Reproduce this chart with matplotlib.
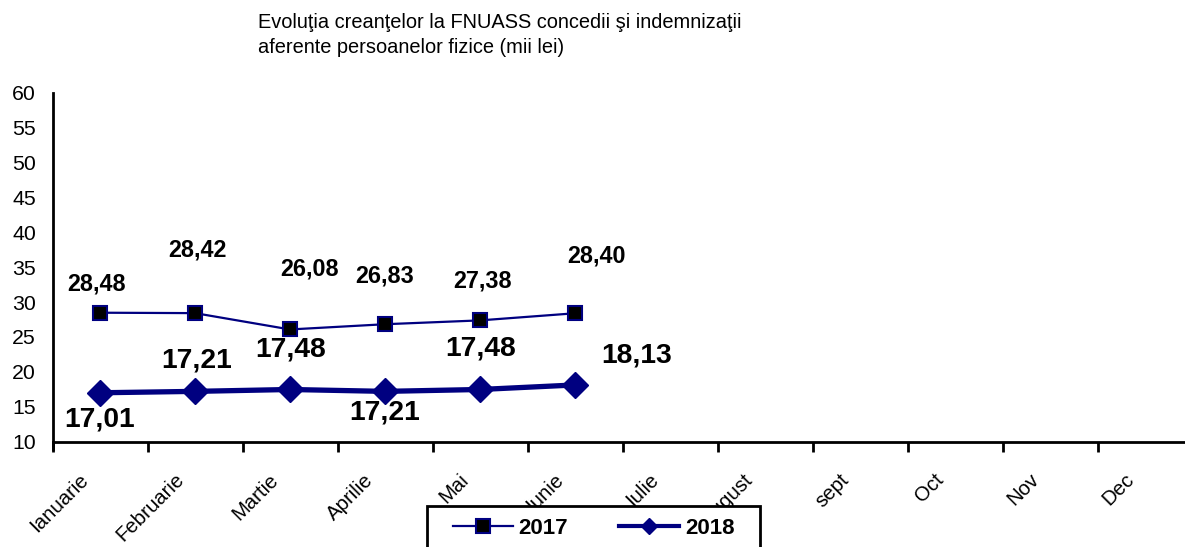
import matplotlib
matplotlib.use("Agg")
import matplotlib.pyplot as plt
from matplotlib.lines import Line2D
from matplotlib.patches import Rectangle
import matplotlib.transforms as mtransforms

plt.rcParams['font.family'] = ['Liberation Sans', 'DejaVu Sans']

months = ["Ianuarie", "Februarie", "Martie", "Aprilie", "Mai", "Iunie",
          "Iulie", "August", "sept", "Oct", "Nov", "Dec"]
values_2017 = [28.48, 28.42, 26.08, 26.83, 27.38, 28.40]
values_2018 = [17.01, 17.21, 17.48, 17.21, 17.48, 18.13]
labels_2017 = ["28,48", "28,42", "26,08", "26,83", "27,38", "28,40"]
labels_2018 = ["17,01", "17,21", "17,48", "17,21", "17,48", "18,13"]
yticks = [10, 15, 20, 25, 30, 35, 40, 45, 50, 55, 60]
series_names = ["2017", "2018"]
title = "Evoluţia creanţelor la FNUASS concedii şi indemnizaţii\naferente persoanelor fizice (mii lei)"

# label offsets in pixels (layout)
off_2017 = [(-3, 29), (2, 63), (20, 60), (0, 48), (3, 39), (22, 57)]
off_2018 = [(0, -27), (2, 31), (1, 40), (0, -21), (1, 41), (62, 29)]

navy = "#000080"
W, H = 1185, 547
fig = plt.figure(figsize=(W / 100, H / 100), dpi=100)
ax = fig.add_axes([52.5 / W, 1 - 441.7 / H, 1140 / W, 349 / H])

x = [i + 0.5 for i in range(len(months))]
ax.plot(x[:len(values_2017)], values_2017, color=navy, lw=1.6, marker='s', ms=9.5,
        mfc='black', mec=navy, mew=1.5, zorder=3)
ax.plot(x[:len(values_2018)], values_2018, color=navy, lw=3.8, marker='D', ms=13.5,
        mfc=navy, mec=navy, zorder=3)

for xi, v, lab, (dx, dy) in zip(x, values_2017, labels_2017, off_2017):
    ax.annotate(lab, (xi, v), xytext=(dx, dy), textcoords='offset pixels',
                ha='center', va='center', fontsize=16.8, fontweight='bold')
for xi, v, lab, (dx, dy) in zip(x, values_2018, labels_2018, off_2018):
    ax.annotate(lab, (xi, v), xytext=(dx, dy), textcoords='offset pixels',
                ha='center', va='center', fontsize=20.3, fontweight='bold')

ax.set_xlim(0, len(months))
ax.set_ylim(10, 60)
ax.set_yticks(yticks)
ax.set_yticklabels([str(t) for t in yticks], fontsize=15.3)
ax.tick_params(axis='y', length=0, pad=12)
ax.set_xticks(range(len(months) + 1))
ax.set_xticklabels([])
ax.set_xticks(x, minor=True)
ax.set_xticklabels(months, minor=True, rotation=45, ha='right', va='top',
                   rotation_mode='anchor', fontsize=14.7)
ax.tick_params(axis='x', which='major', length=7, width=2, direction='out')
ax.tick_params(axis='x', which='minor', length=0, pad=20.5)
shift = mtransforms.ScaledTranslation(-21 / 100, 0, fig.dpi_scale_trans)
for lbl in ax.get_xticklabels(minor=True):
    lbl.set_transform(lbl.get_transform() + shift)
for s in ['top', 'right']:
    ax.spines[s].set_visible(False)
ax.spines['left'].set_linewidth(2)
ax.spines['bottom'].set_linewidth(2)
fig.add_artist(Line2D([52.5 / W, 52.5 / W], [1 - 449 / H, 1 - 441.7 / H],
                      color='black', lw=2, transform=fig.transFigure))

fig.text(258 / W, 1 - 13 / H, title, ha='left', va='top', fontsize=14.4,
         linespacing=1.42)

# legend box
box = Rectangle((427 / W, 1 - 570 / H), 333 / W, 64 / H, transform=fig.transFigure,
                facecolor='white', edgecolor='black', lw=2, zorder=9)
fig.add_artist(box)
handles = [Line2D([], [], color=navy, lw=1.6, marker='s', ms=9.5, mfc='black',
                  mec=navy, mew=1.5),
           Line2D([], [], color=navy, lw=3, marker='D', ms=8, mfc=navy, mec=navy)]
leg = fig.legend(handles, series_names, loc='center left',
                 bbox_to_anchor=(453 / W, 1 - 528 / H), ncol=2,
                 prop={'weight': 'bold', 'size': 16}, frameon=False,
                 handlelength=2.7, handletextpad=0.25,
                 columnspacing=2.3, borderpad=0, borderaxespad=0)
leg.set_zorder(10)

fig.savefig("out.png", dpi=100)
